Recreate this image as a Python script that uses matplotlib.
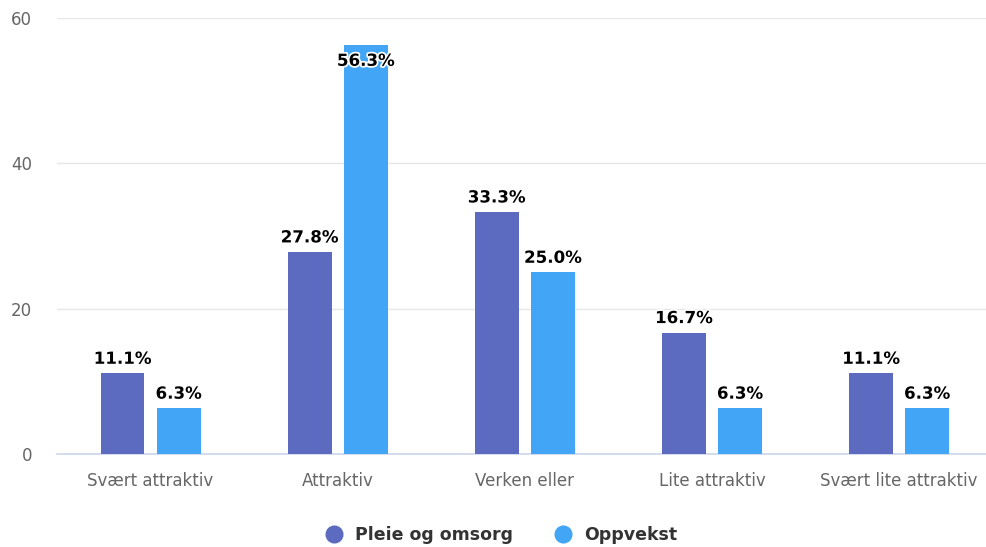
import matplotlib
matplotlib.use("Agg")
import matplotlib.pyplot as plt
import matplotlib.patheffects as pe
import numpy as np
from matplotlib.lines import Line2D

categories = ["Svært attraktiv", "Attraktiv", "Verken eller", "Lite attraktiv", "Svært lite attraktiv"]
pleie = [11.1, 27.8, 33.3, 16.7, 11.1]
oppvekst = [6.3, 56.3, 25.0, 6.3, 6.3]
series_names = ["Pleie og omsorg", "Oppvekst"]
colors = ["#5c6bc0", "#42a5f5"]
yticks = [0, 20, 40, 60]

plt.rcParams['font.family'] = ['DejaVu Sans']
fig = plt.figure(figsize=(9.87, 5.47), dpi=100)
ax = fig.add_axes([57/987, 93/547, (987-57)/987, (454-18)/547])

x = np.arange(len(categories))
w = 0.235
off = 0.15
for vals, dx, col in [(pleie, -off, colors[0]), (oppvekst, off, colors[1])]:
    ax.bar(x + dx, vals, width=w, color=col, zorder=3)
    for xi, v in zip(x + dx, vals):
        inside = v > 53
        ax.annotate(f"{v:.1f}%", (xi, v), xytext=(0, -5 if inside else 4), textcoords="offset points",
                    ha="center", va="top" if inside else "bottom", fontsize=12, fontweight="bold",
                    color="black",
                    path_effects=[pe.withStroke(linewidth=2.5, foreground="white")], zorder=5)

ax.set_xlim(-0.5, 4.47)
ax.set_ylim(0, 60)
ax.set_yticks(yticks)
ax.set_xticks(x)
ax.set_xticklabels(categories, fontsize=12, color="#666666")
ax.set_yticklabels([str(t) for t in yticks], fontsize=12, color="#666666")
ax.tick_params(axis="x", length=0, pad=13)
ax.tick_params(axis="y", length=0, pad=18)
ax.grid(axis="y", color="#e6e6e6", linewidth=1, zorder=0)
for s in ["top", "right", "left"]:
    ax.spines[s].set_visible(False)
ax.spines["bottom"].set_color("#ccd6eb")
ax.spines["bottom"].set_linewidth(1.2)

handles = [Line2D([0], [0], marker="o", linestyle="", markersize=12, markerfacecolor=c,
                  markeredgecolor=c) for c in colors]
leg = fig.legend(handles, series_names, loc="center", bbox_to_anchor=(497/987, 1-535/547),
                 ncol=2, frameon=False, fontsize=12.5, handletextpad=0.2, columnspacing=1.9)
for t in leg.get_texts():
    t.set_fontweight("bold")
    t.set_color("#333333")

fig.savefig("out.png", dpi=100)
